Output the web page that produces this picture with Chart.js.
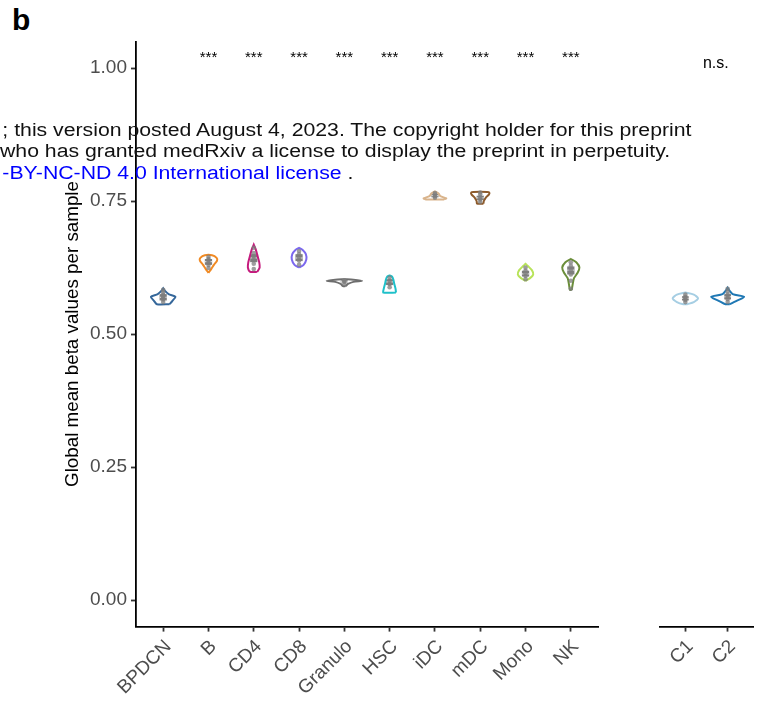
<!DOCTYPE html>
<html>
<head>
<meta charset="utf-8">
<script src="https://cdn.jsdelivr.net/npm/chart.js@4.4.1/dist/chart.umd.min.js"></script>
<style>
  body { margin: 0; background: #fff; width: 766px; height: 701px; position: relative; overflow: hidden;
         font-family: "Liberation Sans", Arial, sans-serif; }
  #left { position: absolute; left: 0; top: 0; }
  #right { position: absolute; left: 610px; top: 0; }
  .tag { position: absolute; left: 12px; top: 5px; font-size: 30px; font-weight: bold; line-height: 30px; }
  .mark { position: absolute; left: 0; top: 119.5px; font-size: 18px; line-height: 21.5px; color: #111;
          white-space: nowrap; transform: scaleX(1.18); transform-origin: 0 0; z-index: 2; }
  .mark .lic { color: #0000ff; }
</style>
</head>
<body>
<div class="tag">b</div>
<canvas id="left" width="610" height="701"></canvas>
<canvas id="right" width="156" height="701"></canvas>
<div class="mark">
  <div style="margin-left:2px">; this version posted August 4, 2023. The copyright holder for this preprint</div>
  <div>who has granted medRxiv a license to display the preprint in perpetuity.</div>
  <div style="margin-left:2px"><span class="lic">-BY-NC-ND 4.0 International license</span> .</div>
</div>
<script>
// categories
const cellTypes = ['BPDCN', 'B', 'CD4', 'CD8', 'Granulo', 'HSC', 'iDC', 'mDC', 'Mono', 'NK'];
const clusters = ['C1', 'C2'];

// significance labels above each group
const cellSig = ['', '***', '***', '***', '***', '***', '***', '***', '***', '***'];
const clusterSig = 'n.s.';

// violin outlines: [beta value, relative half width]
const vBPDCN = [[0.556, 0.14], [0.562, 0.20], [0.570, 0.27], [0.575, 0.12], [0.582, 0.03], [0.586, 0]];
const vB = [[0.615, 0], [0.622, 0.06], [0.630, 0.12], [0.638, 0.19], [0.643, 0.18], [0.648, 0.08]];
const vCD4 = [[0.617, 0.08], [0.625, 0.13], [0.635, 0.12], [0.648, 0.08], [0.660, 0.04], [0.668, 0]];
const vCD8 = [[0.625, 0], [0.630, 0.10], [0.640, 0.16], [0.650, 0.15], [0.658, 0.08], [0.662, 0]];
const vGranulo = [[0.590, 0.03], [0.594, 0.08], [0.598, 0.20], [0.600, 0.39], [0.602, 0.20], [0.603, 0]];
const vHSC = [[0.578, 0.14], [0.585, 0.13], [0.595, 0.10], [0.603, 0.08], [0.608, 0.05], [0.610, 0]];
const viDC = [[0.753, 0.20], [0.755, 0.25], [0.759, 0.12], [0.764, 0.08], [0.768, 0]];
const vmDC = [[0.745, 0.07], [0.750, 0.08], [0.756, 0.12], [0.762, 0.19], [0.766, 0.20], [0.767, 0.15]];
const vMono = [[0.600, 0], [0.605, 0.10], [0.612, 0.17], [0.620, 0.14], [0.628, 0.05], [0.632, 0]];
const vNK = [[0.583, 0.02], [0.593, 0.04], [0.605, 0.07], [0.615, 0.15], [0.625, 0.19], [0.635, 0.12], [0.641, 0]];
const vC1 = [[0.556, 0.05], [0.560, 0.20], [0.567, 0.30], [0.574, 0.20], [0.578, 0]];
const vC2 = [[0.556, 0.05], [0.562, 0.20], [0.570, 0.39], [0.575, 0.12], [0.582, 0.04], [0.587, 0]];

// boxplot summaries
const cellQ1 = [0.563, 0.630, 0.635, 0.637, 0.597, 0.592, 0.757, 0.752, 0.608, 0.612];
const cellMed = [0.569, 0.636, 0.643, 0.643, 0.599, 0.598, 0.760, 0.756, 0.613, 0.620];
const cellQ3 = [0.575, 0.641, 0.650, 0.650, 0.601, 0.603, 0.763, 0.760, 0.619, 0.627];
const clusterQ1 = [0.563, 0.565];
const clusterMed = [0.567, 0.570];
const clusterQ3 = [0.571, 0.575];

// per-sample means
const ptsBPDCN = [0.560, 0.565, 0.568, 0.571, 0.574, 0.579, 0.583];
const ptsB = [0.624, 0.630, 0.634, 0.638, 0.641, 0.645];
const ptsCD4 = [0.622, 0.632, 0.640, 0.646, 0.652, 0.662];
const ptsCD8 = [0.630, 0.638, 0.644, 0.650, 0.656];
const ptsGranulo = [0.594, 0.598, 0.600, 0.601];
const ptsHSC = [0.588, 0.594, 0.600, 0.606];
const ptsiDC = [0.756, 0.759, 0.762, 0.765];
const ptsmDC = [0.748, 0.753, 0.757, 0.762, 0.766];
const ptsMono = [0.603, 0.609, 0.614, 0.619, 0.625];
const ptsNK = [0.585, 0.600, 0.612, 0.620, 0.628, 0.635];
const ptsC1 = [0.560, 0.564, 0.567, 0.570, 0.574];
const ptsC2 = [0.560, 0.566, 0.570, 0.574, 0.580, 0.585];

const yTicks = [0, 0.25, 0.5, 0.75, 1];

const cellColors = ['#35679a', '#f08a24', '#c51b7d', '#7b68ee', '#6e6e6e', '#1fc0c9', '#d9b48c', '#8c5a2b', '#b8e35a', '#6b8e3a'];
const clusterColors = ['#a6cee3', '#1f78b4'];

Chart.defaults.font.family = "'Liberation Sans', Arial, sans-serif";

function violinData(profile, i) {
    const right = profile.map(([v, w]) => ({ x: i + w, y: v }));
    const left = profile.slice().reverse().map(([v, w]) => ({ x: i - w, y: v }));
    return right.concat(left, [right[0]]);
}

function buildPanel(el, cats, profiles, pts, q1, med, q3, colors, sig, opts) {
    const datasets = [];
    // points on top
    pts.forEach((vals, i) => {
        datasets.push({
            type: 'scatter',
            data: vals.map(v => ({ x: i + 1, y: v })),
            pointRadius: 2.3,
            pointBackgroundColor: 'rgba(125,125,125,0.75)',
            pointBorderWidth: 0
        });
    });
    profiles.forEach((p, i) => {
        datasets.push({
            type: 'line',
            data: violinData(p, i + 1),
            borderColor: colors[i],
            borderWidth: 2,
            tension: 0.25,
            pointRadius: 0,
            fill: false
        });
    });

    const boxPlugin = {
        id: 'boxes',
        beforeDatasetsDraw(chart) {
            const { ctx, scales: { x, y } } = chart;
            ctx.save();
            cats.forEach((c, i) => {
                const half = (x.getPixelForValue(i + 1.08) - x.getPixelForValue(i + 1));
                const cx = x.getPixelForValue(i + 1);
                const top = y.getPixelForValue(q3[i]);
                const bot = y.getPixelForValue(q1[i]);
                ctx.fillStyle = '#7f7f7f';
                ctx.fillRect(cx - half, top, half * 2, bot - top);
                ctx.strokeStyle = '#d8d8d8';
                ctx.lineWidth = 1.2;
                const m = y.getPixelForValue(med[i]);
                ctx.beginPath();
                ctx.moveTo(cx - half, m);
                ctx.lineTo(cx + half, m);
                ctx.stroke();
            });
            ctx.restore();
        },
        afterDatasetsDraw(chart) {
            const { ctx, scales: { x, y } } = chart;
            ctx.save();
            ctx.fillStyle = '#000';
            ctx.textAlign = 'center';
            ctx.textBaseline = 'middle';
            sig.forEach(s => {
                ctx.font = s.size + "px 'Liberation Sans', Arial, sans-serif";
                ctx.fillText(s.text, x.getPixelForValue(s.x), y.getPixelForValue(s.y));
            });
            ctx.restore();
        }
    };

    return new Chart(el, {
        data: { datasets },
        options: {
            responsive: false,
            animation: false,
            devicePixelRatio: 1,
            layout: { padding: opts.padding },
            plugins: { legend: { display: false }, tooltip: { enabled: false } },
            scales: {
                x: {
                    type: 'linear',
                    min: 0.4,
                    max: cats.length + 0.6,
                    afterBuildTicks: s => { s.ticks = cats.map((c, i) => ({ value: i + 1 })); },
                    afterFit: s => { s.height = 74.4; },
                    ticks: {
                        autoSkip: false,
                        minRotation: 45,
                        maxRotation: 45,
                        padding: 4,
                        labelOffset: 5,
                        color: '#4d4d4d',
                        font: { size: 19 },
                        callback: v => cats[Math.round(v) - 1]
                    },
                    grid: { drawOnChartArea: false, drawTicks: true, tickLength: 5, tickColor: '#333', tickWidth: 1.8 },
                    border: { display: true, color: '#000', width: 1.8 }
                },
                y: {
                    display: opts.showY,
                    min: -0.05,
                    max: 1.05,
                    afterBuildTicks: s => { s.ticks = yTicks.map(v => ({ value: v })); },
                    afterFit: s => { s.width = opts.showY ? 74 : 0; },
                    ticks: {
                        padding: 4,
                        color: '#4d4d4d',
                        font: { size: 19 },
                        callback: v => v.toFixed(2)
                    },
                    title: {
                        display: true,
                        text: 'Global mean beta values per sample',
                        color: '#000',
                        font: { size: 18.8 },
                        padding: 0
                    },
                    grid: { drawOnChartArea: false, drawTicks: true, tickLength: 5, tickColor: '#333', tickWidth: 1.8 },
                    border: { display: true, color: '#000', width: 1.8 }
                }
            }
        },
        plugins: [boxPlugin]
    });
}

buildPanel(
    document.getElementById('left'), cellTypes,
    [vBPDCN, vB, vCD4, vCD8, vGranulo, vHSC, viDC, vmDC, vMono, vNK],
    [ptsBPDCN, ptsB, ptsCD4, ptsCD8, ptsGranulo, ptsHSC, ptsiDC, ptsmDC, ptsMono, ptsNK],
    cellQ1, cellMed, cellQ3, cellColors,
    cellSig.map((t, i) => ({ text: t, x: i + 1, y: 1.02, size: 15 })).filter(s => s.text),
    { showY: true, padding: { left: 62, top: 41.4, right: 12, bottom: 0 } }
);

buildPanel(
    document.getElementById('right'), clusters,
    [vC1, vC2],
    [ptsC1, ptsC2],
    clusterQ1, clusterMed, clusterQ3, clusterColors,
    [{ text: clusterSig, x: 1.72, y: 1.008, size: 16 }],
    { showY: false, padding: { left: 50, top: 41.4, right: 13, bottom: 0 } }
);
</script>
</body>
</html>
